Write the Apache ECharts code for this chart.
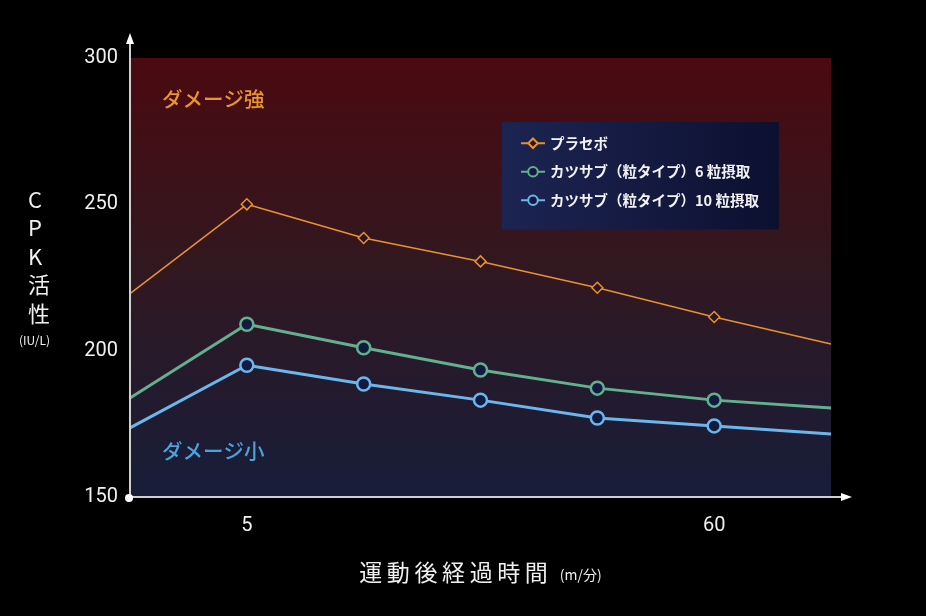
<!DOCTYPE html>
<html><head><meta charset="utf-8">
<script src="https://cdn.jsdelivr.net/npm/echarts@6/dist/echarts.min.js"></script>
<style>html,body{margin:0;padding:0;background:#000;}#c{width:926px;height:616px;}</style>
</head><body><div id="c"></div>
<script>
const categories = ['', '5', '', '', '', '60', ''];
const placebo = [219.5, 250, 238.5, 230.5, 221.5, 211.5, 202.3];
const six = [183.8, 209, 201, 193.4, 187.2, 183.1, 180.4];
const ten = [173.6, 195, 188.6, 183.1, 177, 174.3, 171.5];
const yTicks = [150, 200, 250, 300];
const names = ['プラセボ', 'カツサブ（粒タイプ）6 粒摂取', 'カツサブ（粒タイプ）10 粒摂取'];

const FONT = '"Noto Sans CJK JP", "Noto Sans", sans-serif';
const NUMFONT = 'Roboto, "Noto Sans", sans-serif';
const G = {left: 130, top: 58, right: 95, bottom: 119};
const W = 926, H = 616;
const x0 = G.left, y0 = H - G.bottom;

function mk(arr) {
  return arr.map((v, i) => (i === 0 || i === arr.length - 1) ? {value: v, symbol: 'none'} : v);
}
const xName = '運動後経過時間'.split('').join('\u2009');

const chart = echarts.init(document.getElementById('c'));
chart.setOption({
  backgroundColor: '#000',
  animation: false,
  textStyle: {fontFamily: FONT},
  grid: {
    left: G.left, top: G.top, right: G.right, bottom: G.bottom,
    show: true, borderWidth: 0,
    backgroundColor: new echarts.graphic.LinearGradient(0, 0, 0, 1, [
      {offset: 0, color: '#4b0910'},
      {offset: 0.45, color: '#33171f'},
      {offset: 1, color: '#171d3a'}
    ])
  },
  legend: {
    orient: 'vertical', left: 502, top: 122,
    padding: [14, 20, 22, 18], itemGap: 14,
    itemWidth: 24, itemHeight: 12,
    backgroundColor: new echarts.graphic.LinearGradient(0, 0, 1, 0, [
      {offset: 0, color: '#1c2452'},
      {offset: 1, color: '#0c1030'}
    ]),
    textStyle: {color: '#f2f2f2', fontSize: 14.5, fontWeight: 'bold', fontFamily: FONT},
    data: names
  },
  xAxis: {
    type: 'category', data: categories, boundaryGap: false,
    axisLine: {show: false}, axisTick: {show: false}, splitLine: {show: false},
    axisLabel: {interval: 0, color: '#f0f0f0', fontSize: 20, margin: 19, fontFamily: NUMFONT},
    name: '{a|' + xName + '}{b|(m/分)}', nameLocation: 'middle', nameGap: 64,
    nameTextStyle: {
      rich: {
        a: {fontSize: 23, color: '#f0f0f0', fontFamily: FONT},
        b: {fontSize: 14, color: '#f0f0f0', fontFamily: FONT, padding: [5, 0, 0, 12]}
      }
    }
  },
  yAxis: {
    type: 'value', min: 150, max: 300, interval: 50,
    axisLine: {show: false}, axisTick: {show: false}, splitLine: {show: false},
    axisLabel: {color: '#f0f0f0', fontSize: 20, margin: 12, fontFamily: NUMFONT,
      formatter: v => yTicks.includes(v) ? String(v) : ''}
  },
  series: [
    {name: names[0], type: 'line', data: mk(placebo), symbol: 'diamond', symbolSize: 11,
      lineStyle: {color: '#e8922e', width: 1.5},
      itemStyle: {color: '#2a1420', borderColor: '#e8922e', borderWidth: 1.5}, z: 3},
    {name: names[1], type: 'line', data: mk(six), symbol: 'circle', symbolSize: 13,
      lineStyle: {color: '#62b08e', width: 3},
      itemStyle: {color: '#121a40', borderColor: '#62b08e', borderWidth: 2.5}, z: 4},
    {name: names[2], type: 'line', data: mk(ten), symbol: 'circle', symbolSize: 13,
      lineStyle: {color: '#6cb6ee', width: 3},
      itemStyle: {color: '#121a40', borderColor: '#6cb6ee', borderWidth: 2.5}, z: 5}
  ],
  graphic: [
    {type: 'line', shape: {x1: x0, y1: y0, x2: x0, y2: 40}, style: {stroke: '#cfcfcf', lineWidth: 2}, z: 10},
    {type: 'polygon', shape: {points: [[x0 - 4, 44], [x0 + 4, 44], [x0, 33]]}, style: {fill: '#ffffff'}, z: 10},
    {type: 'line', shape: {x1: x0, y1: y0, x2: 843, y2: y0}, style: {stroke: '#cfcfcf', lineWidth: 2}, z: 10},
    {type: 'polygon', shape: {points: [[841, y0 - 4], [841, y0 + 4], [852, y0]]}, style: {fill: '#ffffff'}, z: 10},
    {type: 'circle', shape: {cx: x0 - 1, cy: y0 + 1, r: 4}, style: {fill: '#ffffff'}, z: 11},
    {type: 'text', left: 162, top: 89, style: {text: 'ダメージ強', fill: '#e8962c', font: '500 20.5px ' + FONT}, z: 6},
    {type: 'text', left: 162, top: 441, style: {text: 'ダメージ小', fill: '#4ea2dc', font: '500 20.5px ' + FONT}, z: 6},
    {type: 'text', left: 28, top: 185, style: {text: 'C\nP\nK\n活\n性', fill: '#f0f0f0', font: '22px ' + FONT, lineHeight: 28.5, align: 'center', width: 24}, z: 6},
    {type: 'text', left: 19, top: 334, style: {text: '(IU/L)', fill: '#f0f0f0', font: '12px ' + FONT}, z: 6}
  ]
});
</script></body></html>
